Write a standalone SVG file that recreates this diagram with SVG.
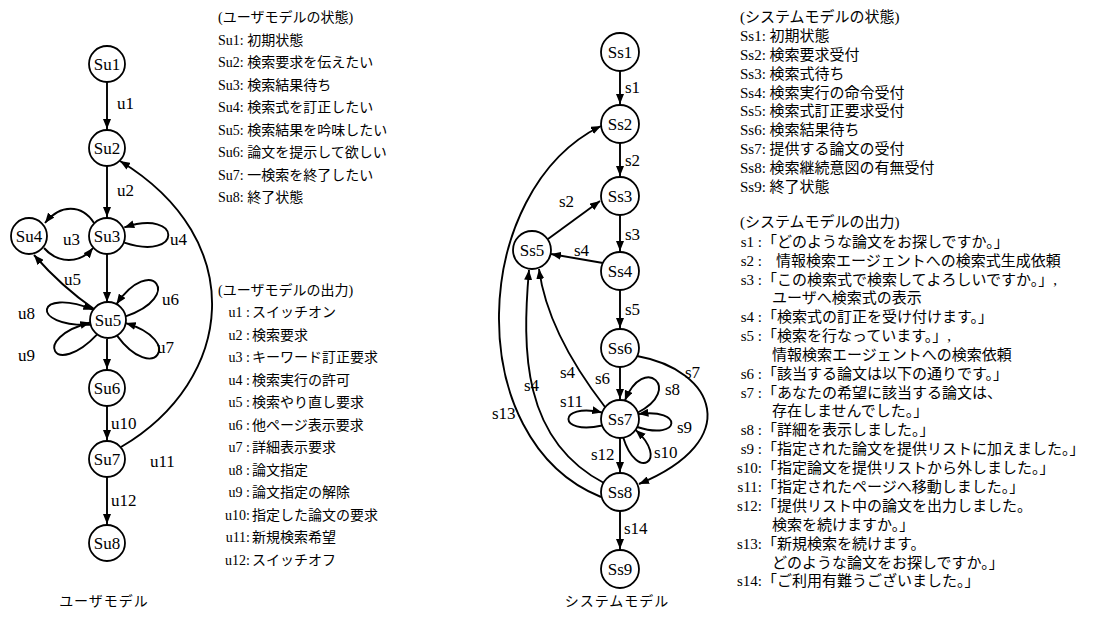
<svg xmlns="http://www.w3.org/2000/svg" width="1111" height="623" viewBox="0 0 1111 623">
<style>
.n{fill:#fff;stroke:#000;stroke-width:1.8}
.nl{font-family:"Liberation Serif","Noto Sans CJK JP",serif;font-size:17px;text-anchor:middle;dominant-baseline:central}
.ea{fill:none;stroke:#000;stroke-width:1.9;marker-end:url(#ah)}
.el{font-family:"Liberation Serif",serif;font-size:17px}
.t{font-family:"Liberation Serif","Noto Sans CJK JP",sans-serif;font-size:14px}
.tr{font-family:"Liberation Serif","Noto Sans CJK JP",sans-serif;font-size:15px}
.lb{text-anchor:end}
.cap{font-family:"Noto Sans CJK JP",sans-serif;font-size:14px;text-anchor:middle;letter-spacing:1px}
</style>
<defs>
<marker id="ah" markerUnits="userSpaceOnUse" markerWidth="11" markerHeight="8" refX="10" refY="4" orient="auto">
<path d="M0,0 L10,4 L0,8 z" fill="#000"/>
</marker>
</defs>
<rect width="1111" height="623" fill="#fff"/>

<g id="connectors">
<!-- user model -->
<path class="ea" d="M107 82 L107 129"/>
<path class="ea" d="M107 166 L107 217"/>
<path class="ea" d="M94 223 C82 204, 60 204, 45 223"/>
<path class="ea" d="M44 248 C58 264, 80 264, 93 248"/>
<path class="ea" d="M124.3 242.6 C183 262, 183 208, 124.3 227.4"/>
<path class="ea" d="M107 254 L107 302"/>
<path class="ea" d="M94 309 Q62 287, 34 255"/>
<path class="ea" d="M125.6 316.3 C184.5 296.6, 151.6 252.9, 116.5 304.1"/>
<path class="ea" d="M117 335.6 C153.9 385.5, 185.3 340.7, 125.7 323.1"/>
<path class="ea" d="M90.6 324.7 C28.3 327, 35.5 286.2, 93.3 309.7"/>
<path class="ea" d="M97.2 334.4 C54.5 379.5, 30.1 338, 90.2 322.5"/>
<path class="ea" d="M107 339 L107 369"/>
<path class="ea" d="M107 406 L107 440"/>
<path class="ea" d="M107 477 L107 524"/>
<path class="ea" d="M121 447 C235 380, 250 240, 120 161"/>
<!-- system model -->
<path class="ea" d="M620 71 L620 104"/>
<path class="ea" d="M620 143 L620 176"/>
<path class="ea" d="M620 215 L620 251"/>
<path class="ea" d="M620 290 L620 328"/>
<path class="ea" d="M603 263 L551 254"/>
<path class="ea" d="M548 239 L600 201"/>
<path class="ea" d="M620 367 L620 399"/>
<path class="ea" d="M620 438 L620 472"/>
<path class="ea" d="M620 511 L620 549"/>
<path class="ea" d="M637 356 C715 370, 745 440, 639 484"/>
<path class="ea" d="M602.1 425.5 C557.2 435.8, 557.2 402.2, 602.1 412.5"/>
<path class="ea" d="M637.9 412.5 C683.4 389.4, 643.9 353.2, 624.9 400.6"/>
<path class="ea" d="M637.2 427 C681.1 441.2, 684 407.7, 638.4 414.1"/>
<path class="ea" d="M623.3 437.7 C636.8 481.8, 669.8 460.8, 635.6 429.9"/>
<path class="ea" d="M605 407 C578 372, 546 322, 539 269"/>
<path class="ea" d="M604 483 C522 440, 522 350, 529 270"/>
<path class="ea" d="M601 497 C460 440, 470 190, 601 126"/>
</g>

<g id="edge-labels" class="el">
<text x="117" y="109">u1</text>
<text x="117" y="196">u2</text>
<text x="63" y="245">u3</text>
<text x="170" y="245">u4</text>
<text x="64" y="285">u5</text>
<text x="162" y="305">u6</text>
<text x="157" y="353">u7</text>
<text x="18" y="319">u8</text>
<text x="18" y="361">u9</text>
<text x="111" y="429">u10</text>
<text x="150" y="467">u11</text>
<text x="111" y="506">u12</text>
<text x="625" y="93">s1</text>
<text x="625" y="166">s2</text>
<text x="625" y="240">s3</text>
<text x="625" y="315">s5</text>
<text x="559" y="207">s2</text>
<text x="574" y="256">s4</text>
<text x="595" y="384">s6</text>
<text x="685" y="378">s7</text>
<text x="560" y="378">s4</text>
<text x="524" y="391">s4</text>
<text x="492" y="419">s13</text>
<text x="560" y="407">s11</text>
<text x="665" y="395">s8</text>
<text x="677" y="433">s9</text>
<text x="654" y="458">s10</text>
<text x="591" y="460">s12</text>
<text x="624" y="534">s14</text>
</g>

<g id="Su1"><circle class="n" cx="107" cy="64" r="18"/><text class="nl" x="107" y="64">Su1</text></g>
<g id="Su2"><circle class="n" cx="107" cy="148" r="18"/><text class="nl" x="107" y="148">Su2</text></g>
<g id="Su3"><circle class="n" cx="107" cy="236" r="18"/><text class="nl" x="107" y="236">Su3</text></g>
<g id="Su4"><circle class="n" cx="29" cy="236" r="18"/><text class="nl" x="29" y="236">Su4</text></g>
<g id="Su5"><circle class="n" cx="108" cy="320" r="18"/><text class="nl" x="108" y="320">Su5</text></g>
<g id="Su6"><circle class="n" cx="107" cy="388" r="18"/><text class="nl" x="107" y="388">Su6</text></g>
<g id="Su7"><circle class="n" cx="107" cy="459" r="18"/><text class="nl" x="107" y="459">Su7</text></g>
<g id="Su8"><circle class="n" cx="107" cy="543" r="18"/><text class="nl" x="107" y="543">Su8</text></g>

<g id="Ss1"><circle class="n" cx="620" cy="52" r="19"/><text class="nl" x="620" y="52">Ss1</text></g>
<g id="Ss2"><circle class="n" cx="620" cy="124" r="19"/><text class="nl" x="620" y="124">Ss2</text></g>
<g id="Ss3"><circle class="n" cx="620" cy="196" r="19"/><text class="nl" x="620" y="196">Ss3</text></g>
<g id="Ss4"><circle class="n" cx="620" cy="271" r="19"/><text class="nl" x="620" y="271">Ss4</text></g>
<g id="Ss5"><circle class="n" cx="532" cy="250" r="19"/><text class="nl" x="532" y="250">Ss5</text></g>
<g id="Ss6"><circle class="n" cx="620" cy="348" r="19"/><text class="nl" x="620" y="348">Ss6</text></g>
<g id="Ss7"><circle class="n" cx="620" cy="419" r="19"/><text class="nl" x="620" y="419">Ss7</text></g>
<g id="Ss8"><circle class="n" cx="620" cy="492" r="19"/><text class="nl" x="620" y="492">Ss8</text></g>
<g id="Ss9"><circle class="n" cx="620" cy="569" r="19"/><text class="nl" x="620" y="569">Ss9</text></g>

<g id="user-legend" class="t">
<text x="218" y="22">(ユーザモデルの状態)</text>
<text x="218" y="45">Su1: 初期状態</text>
<text x="218" y="67">Su2: 検索要求を伝えたい</text>
<text x="218" y="90">Su3: 検索結果待ち</text>
<text x="218" y="112">Su4: 検索式を訂正したい</text>
<text x="218" y="135">Su5: 検索結果を吟味したい</text>
<text x="218" y="157">Su6: 論文を提示して欲しい</text>
<text x="218" y="180">Su7: 一検索を終了したい</text>
<text x="218" y="202">Su8: 終了状態</text>
<text x="218" y="295">(ユーザモデルの出力)</text>
<g class="lb">
<text x="250" y="317">u1 :</text><text x="250" y="340">u2 :</text><text x="250" y="362">u3 :</text><text x="250" y="385">u4 :</text>
<text x="250" y="407">u5 :</text><text x="250" y="430">u6 :</text><text x="250" y="452">u7 :</text><text x="250" y="475">u8 :</text>
<text x="250" y="497">u9 :</text><text x="250" y="520">u10:</text><text x="250" y="542">u11:</text><text x="250" y="565">u12:</text>
</g>
<text x="252" y="317">スイッチオン</text>
<text x="252" y="340">検索要求</text>
<text x="252" y="362">キーワード訂正要求</text>
<text x="252" y="385">検索実行の許可</text>
<text x="252" y="407">検索やり直し要求</text>
<text x="252" y="430">他ページ表示要求</text>
<text x="252" y="452">詳細表示要求</text>
<text x="252" y="475">論文指定</text>
<text x="252" y="497">論文指定の解除</text>
<text x="252" y="520">指定した論文の要求</text>
<text x="252" y="542">新規検索希望</text>
<text x="252" y="565">スイッチオフ</text>
</g>

<g id="system-legend" class="tr">
<text x="740" y="22">(システムモデルの状態)</text>
<text x="740" y="41">Ss1: 初期状態</text>
<text x="740" y="60">Ss2: 検索要求受付</text>
<text x="740" y="79">Ss3: 検索式待ち</text>
<text x="740" y="98">Ss4: 検索実行の命令受付</text>
<text x="740" y="116">Ss5: 検索式訂正要求受付</text>
<text x="740" y="135">Ss6: 検索結果待ち</text>
<text x="740" y="154">Ss7: 提供する論文の受付</text>
<text x="740" y="173">Ss8: 検索継続意図の有無受付</text>
<text x="740" y="192">Ss9: 終了状態</text>
<text x="740" y="227">(システムモデルの出力)</text>
<g class="lb">
<text x="762" y="247">s1 :</text><text x="762" y="266">s2 :</text><text x="762" y="285">s3 :</text>
<text x="762" y="322">s4 :</text><text x="762" y="341">s5 :</text><text x="762" y="379">s6 :</text>
<text x="762" y="398">s7 :</text><text x="762" y="435">s8 :</text><text x="762" y="454">s9 :</text>
<text x="762" y="473">s10:</text><text x="762" y="492">s11:</text><text x="762" y="511">s12:</text>
<text x="762" y="549">s13:</text><text x="762" y="586">s14:</text>
</g>
<text x="762" y="247">「どのような論文をお探しですか。」</text>
<text x="776" y="266">情報検索エージェントへの検索式生成依頼</text>
<text x="762" y="285">「この検索式で検索してよろしいですか。」,</text>
<text x="772" y="303">ユーザへ検索式の表示</text>
<text x="762" y="322">「検索式の訂正を受け付けます。」</text>
<text x="762" y="341">「検索を行なっています。」,</text>
<text x="772" y="360">情報検索エージェントへの検索依頼</text>
<text x="762" y="379">「該当する論文は以下の通りです。」</text>
<text x="762" y="398">「あなたの希望に該当する論文は、</text>
<text x="772" y="416">存在しませんでした。」</text>
<text x="762" y="435">「詳細を表示しました。」</text>
<text x="762" y="454">「指定された論文を提供リストに加えました。」</text>
<text x="762" y="473">「指定論文を提供リストから外しました。」</text>
<text x="762" y="492">「指定されたページへ移動しました。」</text>
<text x="762" y="511">「提供リスト中の論文を出力しました。</text>
<text x="772" y="530">検索を続けますか。」</text>
<text x="762" y="549">「新規検索を続けます。</text>
<text x="772" y="568">どのような論文をお探しですか。」</text>
<text x="762" y="586">「ご利用有難うございました。」</text>
</g>

<g id="captions">
<text class="cap" x="104" y="606">ユーザモデル</text>
<text class="cap" x="617" y="606">システムモデル</text>
</g>
</svg>
